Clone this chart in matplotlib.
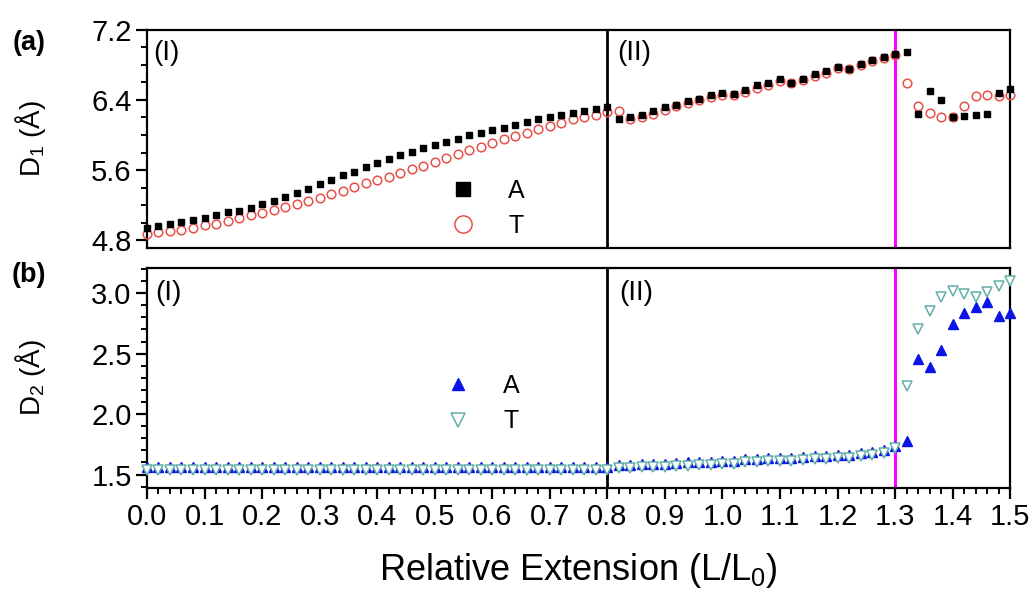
import numpy as np
import matplotlib
matplotlib.use('Agg')
import matplotlib.pyplot as plt
from matplotlib.ticker import MultipleLocator

plt.rcParams['font.family'] = 'Liberation Sans'
plt.rcParams['mathtext.fontset'] = 'custom'
plt.rcParams['mathtext.rm'] = 'Liberation Sans'

# relative extension L/L0, step 0.02
ext = np.round(np.arange(0, 1.5001, 0.02), 2)

# panel (a): D1 (Angstrom)
d1_A = [4.945, 4.964, 4.987, 5.006, 5.036, 5.059, 5.090, 5.120, 5.135, 5.173,
        5.211, 5.250, 5.291, 5.337, 5.383, 5.436, 5.486, 5.543, 5.581, 5.634,
        5.680, 5.726, 5.768, 5.802, 5.848, 5.882, 5.916, 5.958, 5.996, 6.023,
        6.053, 6.084, 6.114, 6.145, 6.179, 6.202, 6.229, 6.255, 6.278, 6.297,
        6.316,
        6.179, 6.202, 6.232, 6.278, 6.316, 6.347, 6.392, 6.415, 6.453, 6.484,
        6.469, 6.514, 6.568, 6.598, 6.636, 6.590, 6.644, 6.690, 6.724, 6.773,
        6.758, 6.811, 6.850, 6.888, 6.918,
        6.945, 6.240, 6.503, 6.400, 6.210, 6.215, 6.229, 6.240, 6.484, 6.522]
d1_T = [4.876, 4.891, 4.907, 4.922, 4.945, 4.968, 4.990, 5.021, 5.048, 5.082,
        5.112, 5.147, 5.177, 5.211, 5.246, 5.284, 5.322, 5.360, 5.402, 5.448,
        5.486, 5.524, 5.562, 5.608, 5.646, 5.691, 5.741, 5.783, 5.829, 5.867,
        5.912, 5.950, 5.989, 6.027, 6.072, 6.103, 6.133, 6.179, 6.210, 6.232,
        6.263,
        6.278, 6.180, 6.200, 6.245, 6.290, 6.330, 6.370, 6.400, 6.430, 6.460,
        6.460, 6.490, 6.540, 6.570, 6.610, 6.590, 6.630, 6.670, 6.710, 6.760,
        6.750, 6.800, 6.840, 6.880, 6.910,
        6.598, 6.331, 6.248, 6.202, 6.210, 6.331, 6.446, 6.457, 6.440, 6.457]

# panel (b): D2 (Angstrom)
d2_A = [1.560, 1.560, 1.560, 1.560, 1.560, 1.560, 1.560, 1.560, 1.560, 1.560,
        1.560, 1.560, 1.560, 1.560, 1.560, 1.560, 1.560, 1.560, 1.560, 1.560,
        1.560, 1.560, 1.560, 1.560, 1.560, 1.560, 1.560, 1.560, 1.560, 1.560,
        1.560, 1.560, 1.560, 1.560, 1.560, 1.560, 1.560, 1.562, 1.562, 1.565,
        1.565,
        1.580, 1.580, 1.585, 1.590, 1.590, 1.595, 1.600, 1.605, 1.605, 1.610,
        1.615, 1.625, 1.630, 1.635, 1.640, 1.640, 1.645, 1.650, 1.655, 1.660,
        1.665, 1.675, 1.685, 1.705, 1.740,
        1.775, 2.456, 2.387, 2.527, 2.748, 2.836, 2.883, 2.924, 2.808, 2.836]
d2_T = [1.535, 1.535, 1.535, 1.535, 1.535, 1.535, 1.535, 1.535, 1.535, 1.535,
        1.535, 1.535, 1.535, 1.535, 1.535, 1.535, 1.535, 1.535, 1.535, 1.535,
        1.535, 1.535, 1.535, 1.535, 1.535, 1.535, 1.535, 1.535, 1.535, 1.535,
        1.535, 1.535, 1.535, 1.535, 1.535, 1.535, 1.535, 1.537, 1.537, 1.540,
        1.540,
        1.555, 1.555, 1.560, 1.565, 1.565, 1.570, 1.575, 1.580, 1.580, 1.585,
        1.590, 1.600, 1.605, 1.610, 1.615, 1.615, 1.620, 1.625, 1.630, 1.635,
        1.640, 1.650, 1.660, 1.680, 1.720,
        2.230, 2.700, 2.850, 2.970, 3.020, 2.990, 2.970, 3.010, 3.060, 3.100]

region_split = 0.8
transition = 1.3

red = '#E8504A'
blue = '#0A14E6'
teal = '#62AFA8'

fig = plt.figure(figsize=(10.35, 5.95), dpi=100)
ax1 = fig.add_axes([0.142, 0.583, 0.834, 0.367])
ax2 = fig.add_axes([0.142, 0.180, 0.834, 0.370])

# ---- panel (a)
ax1.plot(ext, d1_T, 'o', ms=6.2, mfc='none', mec=red, mew=1.1, clip_on=False, label='T', zorder=3)
ax1.plot(ext, d1_A, 's', ms=5, color='black', clip_on=False, label='A', zorder=4)
ax1.set_xlim(0, 1.5)
ax1.set_ylim(4.71, 7.2)
ax1.yaxis.set_major_locator(MultipleLocator(0.8))
ax1.yaxis.set_minor_locator(MultipleLocator(0.2))
ax1.set_yticks([4.8, 5.6, 6.4, 7.2])
ax1.set_xticks([])
ax1.set_ylabel(r'D$_\mathregular{1}$ (Å)', fontsize=20)
ax1.yaxis.set_label_coords(-0.115, 0.5)
h, l = ax1.get_legend_handles_labels()
ax1.legend([h[1], h[0]], [l[1], l[0]], loc='center left', bbox_to_anchor=(0.326, 0.181),
           borderaxespad=0, frameon=False, fontsize=18, markerscale=2.0,
           handletextpad=0.8, labelspacing=0.45)

# ---- panel (b)
ax2.plot(ext, d2_A, '^', ms=7, color=blue, clip_on=False, label='A', zorder=3)
ax2.plot(ext, d2_T, 'v', ms=7.5, mfc='white', mec=teal, mew=1.1, clip_on=False, label='T', zorder=4)
ax2.set_xlim(0, 1.5)
ax2.set_ylim(1.39, 3.21)
ax2.yaxis.set_major_locator(MultipleLocator(0.5))
ax2.yaxis.set_minor_locator(MultipleLocator(0.1))
ax2.xaxis.set_major_locator(MultipleLocator(0.1))
ax2.xaxis.set_minor_locator(MultipleLocator(0.02))
ax2.set_ylabel(r'D$_\mathregular{2}$ (Å)', fontsize=20)
ax2.yaxis.set_label_coords(-0.115, 0.5)
ax2.set_xlabel(r'Relative Extension (L/L$_\mathregular{0}$)', fontsize=26, labelpad=14)
ax2.legend(loc='center left', bbox_to_anchor=(0.320, 0.382), borderaxespad=0,
           frameon=False, fontsize=18, markerscale=1.3, handletextpad=0.8, labelspacing=0.45)

for ax in (ax1, ax2):
    ax.axvline(region_split, color='black', lw=2, zorder=2)
    ax.axvline(transition, color='#FF00FF', lw=2.2, zorder=2)
    for s in ax.spines.values():
        s.set_linewidth(1.6)
    ax.tick_params(axis='both', which='major', direction='out', length=8, width=1.6, labelsize=21, pad=3)
    ax.tick_params(axis='both', which='minor', direction='out', length=4.5, width=1.4)
ax1.tick_params(axis='x', which='both', length=0)

ax1.text(0.007, 0.955, '(I)', transform=ax1.transAxes, fontsize=20, va='top', ha='left')
ax1.text(0.545, 0.955, '(II)', transform=ax1.transAxes, fontsize=20, va='top', ha='left')
ax2.text(0.010, 0.945, '(I)', transform=ax2.transAxes, fontsize=20, va='top', ha='left')
ax2.text(0.547, 0.945, '(II)', transform=ax2.transAxes, fontsize=20, va='top', ha='left')

fig.text(0.028, 0.928, '(a)', fontsize=19.5, fontweight='bold', va='center', ha='center')
fig.text(0.028, 0.538, '(b)', fontsize=19.5, fontweight='bold', va='center', ha='center')

fig.savefig('out.png', dpi=100)
